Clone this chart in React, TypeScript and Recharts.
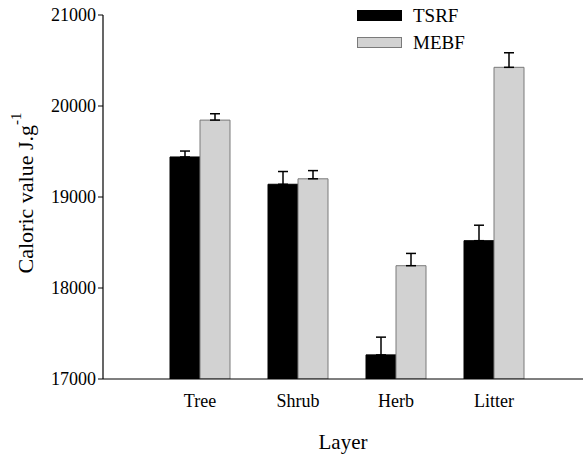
import React from "react";
import { BarChart, Bar, XAxis, YAxis, ErrorBar, Legend, Label } from "recharts";

const layers = ["Tree", "Shrub", "Herb", "Litter"];
const tsrf = [19440, 19140, 17265, 18520];
const tsrfErr = [65, 140, 195, 170];
const mebf = [19845, 19200, 18245, 20425];
const mebfErr = [70, 90, 135, 160];
const yTicks = [17000, 18000, 19000, 20000, 21000];
const seriesNames = ["TSRF", "MEBF"];

const data = layers.map((l, i) => ({
  layer: l,
  TSRF: tsrf[i],
  tsrfE: [0, tsrfErr[i]],
  MEBF: mebf[i],
  mebfE: [0, mebfErr[i]],
}));

const FONT = "Liberation Serif, serif";
const GRAY = "#d2d2d2";
const GRAY_STROKE = "#7a7a7a";

const LegendContent = () => (
  <div style={{ fontFamily: FONT, fontSize: 19, color: "#000" }}>
    {seriesNames.map((n, i) => (
      <div key={n} style={{ display: "flex", alignItems: "center", height: 27 }}>
        <div
          style={{
            width: 43,
            height: 9,
            background: i === 0 ? "#000" : GRAY,
            border: `1px solid ${i === 0 ? "#000" : GRAY_STROKE}`,
            marginRight: 11,
          }}
        />
        <span>{n}</span>
      </div>
    ))}
  </div>
);

const XTick = (props: any) => {
  const { x, y, payload } = props;
  return (
    <text x={x} y={y + 20} textAnchor="middle" style={{ fontFamily: FONT, fontSize: 18 }} fill="#000">
      {payload.value}
    </text>
  );
};

const YTick = (props: any) => {
  const { x, y, payload } = props;
  return (
    <text x={x + 1} y={y + 6} textAnchor="end" style={{ fontFamily: FONT, fontSize: 18 }} fill="#000">
      {payload.value}
    </text>
  );
};

const YLabel = (props: any) => {
  const vb = props.viewBox;
  const cx = 25;
  const cy = vb.y + vb.height / 2 - 4;
  return (
    <text
      x={cx}
      y={cy}
      transform={`rotate(-90, ${cx}, ${cy})`}
      textAnchor="middle"
      dominantBaseline="central"
      style={{ fontFamily: FONT, fontSize: 22 }}
      fill="#000"
    >
      Caloric value J.g
      <tspan dy={-9} style={{ fontSize: 15 }}>-1</tspan>
    </text>
  );
};

const XLabel = (props: any) => {
  const vb = props.viewBox;
  return (
    <text
      x={vb.x + vb.width / 2}
      y={449}
      textAnchor="middle"
      style={{ fontFamily: FONT, fontSize: 21 }}
      fill="#000"
    >
      Layer
    </text>
  );
};

export default function App() {
  return (
    <div>
      <style>{"body{margin:0;}"}</style>
      <BarChart
        width={583}
        height={457}
        data={data}
        margin={{ top: 15, right: 0, bottom: 0, left: 0 }}
        barGap={0}
        barSize={30}
      >
        <XAxis
          dataKey="layer"
          height={78}
          padding={{ left: 48, right: 40 }}
          tickLine={false}
          axisLine={{ stroke: "#000", strokeWidth: 1.2 }}
          tick={<XTick />}
          tickMargin={2}
        >
          <Label content={<XLabel />} />
        </XAxis>
        <YAxis
          width={103}
          domain={[17000, 21000]}
          ticks={yTicks}
          allowDataOverflow
          tickSize={5}
          tickMargin={3}
          axisLine={{ stroke: "#000", strokeWidth: 1.2 }}
          tickLine={{ stroke: "#000" }}
          tick={<YTick />}
        >
          <Label content={<YLabel />} />
        </YAxis>
        <Legend
          layout="horizontal"
          verticalAlign="middle"
          align="center"
          wrapperStyle={{ top: 2, left: 357, width: 120 }}
          content={<LegendContent />}
        />
        <Bar dataKey="TSRF" fill="#000" stroke="#000" isAnimationActive={false}>
          <ErrorBar dataKey="tsrfE" width={5} stroke="#000" strokeWidth={1.5} />
        </Bar>
        <Bar dataKey="MEBF" fill={GRAY} stroke={GRAY_STROKE} isAnimationActive={false}>
          <ErrorBar dataKey="mebfE" width={5} stroke="#000" strokeWidth={1.5} />
        </Bar>
      </BarChart>
    </div>
  );
}
